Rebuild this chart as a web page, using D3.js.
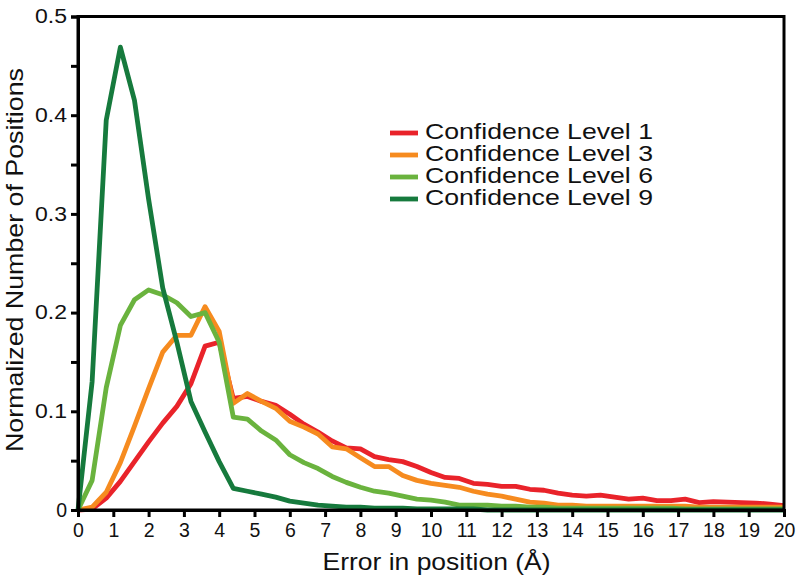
<html>
<head>
    <script src="https://d3js.org/d3.v7.min.js"></script>
    <style>
        body { margin: 0; background: #fff; }
        svg text { font-family: "Liberation Sans", Arial, sans-serif; fill: #111; }
    </style>
</head>
<body>
<div id="chart"></div>
<script>
    // error in position (Å), sampled every 0.4
    var errors = d3.range(0, 20.01, 0.4).map(function(v) { return +v.toFixed(1); });

    var level1 = [0, 0.001, 0.012, 0.029, 0.049, 0.069, 0.088, 0.105, 0.128, 0.166, 0.17,
        0.113, 0.115, 0.11, 0.106, 0.097, 0.087, 0.079, 0.07, 0.063, 0.062,
        0.054, 0.051, 0.049, 0.044, 0.038, 0.033, 0.032, 0.027, 0.026, 0.024,
        0.024, 0.021, 0.02, 0.017, 0.015, 0.014, 0.015, 0.013, 0.011, 0.012,
        0.0095, 0.0095, 0.011, 0.0075, 0.0085, 0.008, 0.0075, 0.007, 0.006, 0.0045];
    var level3 = [0, 0.003, 0.018, 0.048, 0.085, 0.123, 0.16, 0.177, 0.177, 0.206, 0.181,
        0.108, 0.118, 0.11, 0.103, 0.09, 0.084, 0.077, 0.064, 0.062, 0.053,
        0.044, 0.044, 0.035, 0.03, 0.027, 0.025, 0.023, 0.019, 0.016, 0.014,
        0.011, 0.008, 0.007, 0.005, 0.005, 0.004, 0.004, 0.004, 0.004, 0.004,
        0.004, 0.004, 0.004, 0.003, 0.003, 0.003, 0.003, 0.003, 0.003, 0.003];
    var level6 = [0, 0.03, 0.124, 0.187, 0.213, 0.223, 0.218, 0.21, 0.196, 0.2, 0.17,
        0.094, 0.092, 0.08, 0.071, 0.056, 0.048, 0.042, 0.034, 0.028, 0.023,
        0.019, 0.017, 0.014, 0.011, 0.01, 0.008, 0.005, 0.005, 0.005, 0.004,
        0.004, 0.003, 0.003, 0.002, 0.002, 0.002, 0.002, 0.002, 0.002, 0.002,
        0.002, 0.002, 0.001, 0.001, 0.001, 0.001, 0.001, 0.001, 0.001, 0.001];
    var level9 = [0, 0.13, 0.395, 0.469, 0.415, 0.315, 0.225, 0.17, 0.11, 0.079, 0.049,
        0.022, 0.019, 0.016, 0.013, 0.009, 0.007, 0.005, 0.004, 0.003, 0.003,
        0.002, 0.002, 0.002, 0.001, 0.001, 0.001, 0.001, 0.001, 0, 0,
        0, 0, 0, 0, 0, 0, 0, 0, 0, 0,
        0, 0, 0, 0, 0, 0, 0, 0, 0, 0];

    var seriesNames = ["Confidence Level 1", "Confidence Level 3", "Confidence Level 6", "Confidence Level 9"];
    var seriesValues = [level1, level3, level6, level9];
    var colors = ["#e9232a", "#f68b1f", "#6ab33e", "#167a3d"];

    var xTicks = d3.range(0, 21, 1);
    var yTicks = [0, 0.1, 0.2, 0.3, 0.4, 0.5];
    var yMinorTicks = [0.05, 0.15, 0.25, 0.35, 0.45];

    var width = 800, height = 582;
    var margin = {left: 78, right: 16, top: 16.5, bottom: 72};

    var x = d3.scaleLinear().domain([0, 20]).range([margin.left, width - margin.right]);
    var y = d3.scaleLinear().domain([0, 0.5]).range([height - margin.bottom, margin.top]);

    var svg = d3.select("#chart").append("svg")
        .attr("width", width)
        .attr("height", height);

    var line = d3.line()
        .x(function(d, i) { return x(errors[i]); })
        .y(function(d) { return y(d); });

    // series, level 1 first so dark green ends on top
    svg.append("g").selectAll("path")
        .data(seriesValues)
        .enter()
        .append("path")
        .attr("d", line)
        .attr("fill", "none")
        .attr("stroke", function(d, i) { return colors[i]; })
        .attr("stroke-width", 4.8)
        .attr("stroke-linejoin", "round");

    // frame
    svg.append("rect")
        .attr("x", x(0)).attr("y", y(0.5))
        .attr("width", x(20) - x(0)).attr("height", y(0) - y(0.5))
        .attr("fill", "none").attr("stroke", "#000").attr("stroke-width", 3);

    // axes
    svg.append("g")
        .attr("class", "x-axis")
        .attr("transform", "translate(0," + y(0) + ")")
        .call(d3.axisBottom(x).tickValues(xTicks).tickFormat(d3.format("d")).tickSize(7).tickPadding(6));
    svg.append("g")
        .attr("class", "y-axis")
        .attr("transform", "translate(" + x(0) + ",0)")
        .call(d3.axisLeft(y).tickValues(yTicks).tickFormat(function(d) { return d === 0 ? "0" : d3.format(".1f")(d); })
            .tickSize(7).tickPadding(4));
    svg.append("g")
        .attr("transform", "translate(" + x(0) + ",0)")
        .call(d3.axisLeft(y).tickValues(yMinorTicks).tickFormat("").tickSize(7))
        .select(".domain").remove();

    svg.selectAll(".domain").attr("stroke-width", 3);
    svg.selectAll(".tick line").attr("stroke-width", 3);
    svg.selectAll(".tick text")
        .attr("font-size", 19.5)
        .attr("font-family", "Liberation Sans, Arial, sans-serif")
        .attr("fill", "#111");
    // the y labels are set a little wider in the original
    svg.selectAll(".y-axis .tick text")
        .filter(function(d) { return d !== 0; })
        .attr("textLength", 32)
        .attr("lengthAdjust", "spacingAndGlyphs");

    // axis titles
    svg.append("text")
        .attr("x", 322.5)
        .attr("y", 570)
        .attr("font-size", 24)
        .attr("textLength", 228)
        .attr("lengthAdjust", "spacingAndGlyphs")
        .text("Error in position (Å)");

    svg.append("text")
        .attr("transform", "translate(23,452) rotate(-90)")
        .attr("font-size", 24.5)
        .attr("textLength", 384)
        .attr("lengthAdjust", "spacingAndGlyphs")
        .text("Normalized Number of Positions");

    // legend
    var legend = svg.append("g").attr("transform", "translate(390,133)");
    var items = legend.selectAll("g")
        .data(seriesNames)
        .enter()
        .append("g")
        .attr("transform", function(d, i) { return "translate(0," + (i * 22) + ")"; });
    items.append("line")
        .attr("x1", 0).attr("x2", 28)
        .attr("stroke", function(d, i) { return colors[i]; })
        .attr("stroke-width", 4.8);
    items.append("text")
        .attr("x", 35)
        .attr("y", 6)
        .attr("font-size", 22)
        .attr("textLength", 228)
        .attr("lengthAdjust", "spacingAndGlyphs")
        .text(function(d) { return d; });
</script>
</body>
</html>
